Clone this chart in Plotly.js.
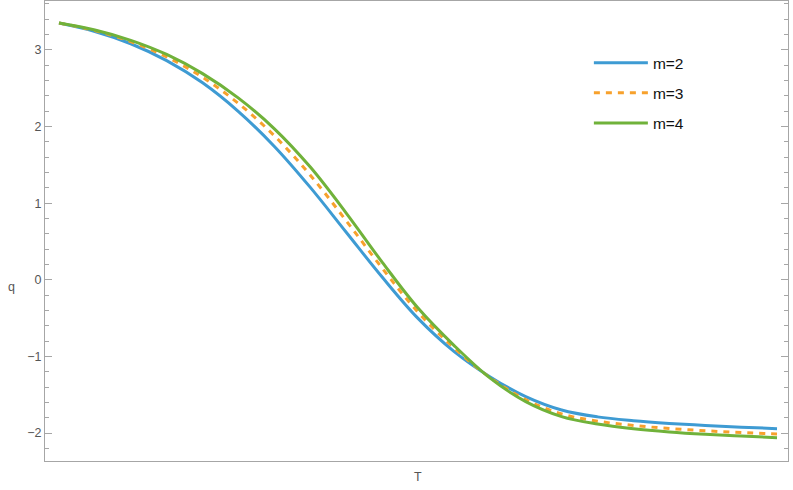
<!DOCTYPE html>
<html>
<head>
<meta charset="utf-8">
<script src="https://cdn.plot.ly/plotly-3.0.1.min.js"></script>
<style>html,body{margin:0;padding:0;background:#fff;}#chart{width:793px;height:490px;}</style>
</head>
<body>
<div id="chart"></div>
<script>
const T = [0,0.5,1,1.5,2,2.5,3,3.5,4,4.5,5,5.5,6,6.5,7,7.5,8,8.5,9,9.5,10];
const q_m2 = [3.351,3.241,3.081,2.861,2.571,2.196,1.741,1.206,0.621,0.036,-0.504,-0.934,-1.264,-1.524,-1.699,-1.789,-1.839,-1.874,-1.901,-1.923,-1.943];
const q_m3 = [3.351,3.253,3.108,2.909,2.643,2.301,1.879,1.365,0.771,0.153,-0.423,-0.887,-1.274,-1.564,-1.751,-1.845,-1.901,-1.941,-1.970,-1.993,-2.013];
const q_m4 = [3.351,3.261,3.126,2.941,2.691,2.371,1.971,1.471,0.871,0.231,-0.369,-0.855,-1.280,-1.590,-1.785,-1.882,-1.943,-1.985,-2.016,-2.040,-2.060];
const names = ['m=2','m=3','m=4'];
const colors = ['#3e9bd3','#f7a12c','#70b23a'];

const series = [q_m2,q_m3,q_m4];
const traces = series.map((q,i)=>({
  x: T, y: q, type:'scatter', mode:'lines', name: names[i],
  legendgroup: 'g'+i,
  line: {color: colors[i], width: 3, shape:'spline', smoothing:1, dash: i===1 ? '6px,6px' : 'solid'}
}));

const axisColor = '#a6a6a6';
const layout = {
  width: 793, height: 490,
  margin: {l:45, r:5, t:1, b:29, pad:0},
  paper_bgcolor:'#fff', plot_bgcolor:'#fff',
  font: {family:'Liberation Sans, Arial, sans-serif', size:12, color:'#555'},
  showlegend: true,
  legend: {x:0.732, y:0.902, xanchor:'left', yanchor:'top', itemwidth:54, tracegroupgap:7,
           font:{size:15.5, color:'#111', family:'Liberation Sans, Arial, sans-serif'}, bgcolor:'rgba(0,0,0,0)'},
  xaxis: {range:[-0.195,10.153], showticklabels:false, ticks:'', showgrid:false, zeroline:false,
          showline:true, mirror:true, linecolor:axisColor, linewidth:1},
  yaxis: {range:[-2.365,3.639], tick0:0, dtick:1, ticks:'inside', ticklen:7, tickcolor:axisColor, tickwidth:1,
          showgrid:false, zeroline:false, showline:true, mirror:'ticks', linecolor:axisColor, linewidth:1,
          tickfont:{size:12.5, color:'#555'},
          minor:{dtick:0.2, ticks:'inside', ticklen:4, tickcolor:axisColor, showgrid:false}},
  annotations: [
    {text:'q', xref:'paper', yref:'paper', x:-0.053, y:0.378, showarrow:false, font:{size:12.5, color:'#555'}},
    {text:'T', xref:'paper', yref:'paper', x:0.502, y:-0.055, showarrow:false, font:{size:12.5, color:'#555'}}
  ]
};
Plotly.newPlot('chart', traces, layout, {displayModeBar:false, staticPlot:true});
</script>
</body>
</html>
